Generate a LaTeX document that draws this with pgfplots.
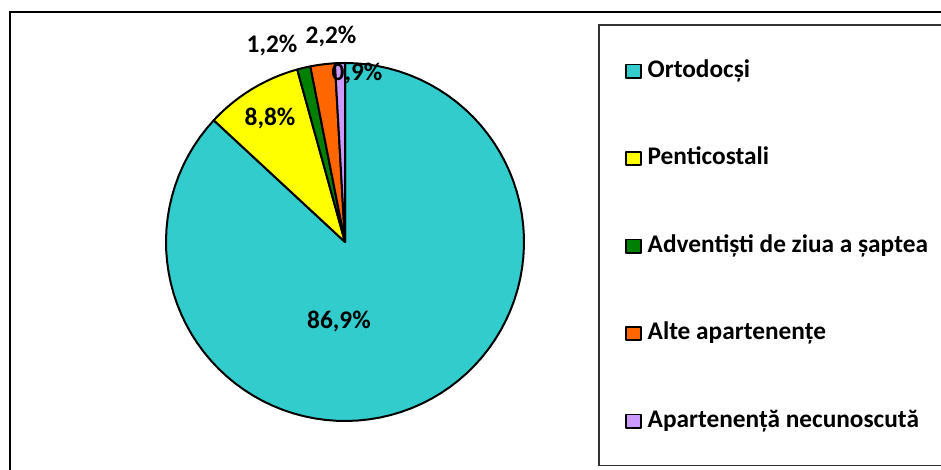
\documentclass[border=0pt]{standalone}
\usepackage{fontspec}
\setmainfont{Carlito}
\usepackage{pgfplots}
\pgfplotsset{compat=1.18}
\definecolor{cOrt}{RGB}{51,204,204}
\definecolor{cPen}{RGB}{255,255,0}
\definecolor{cAdv}{RGB}{0,128,0}
\definecolor{cAlt}{RGB}{255,102,0}
\definecolor{cNec}{RGB}{204,153,255}
% pie centre and radius in pixel units of the axis
\newcommand{\cx}{345}
\newcommand{\cy}{228}
\newcommand{\rr}{179}
% #1 = cumulative share before, #2 = share (%), #3 = colour
\newcommand{\slice}[3]{%
  \pgfmathsetmacro\sa{90-3.6*(#1+#2)}%
  \pgfmathsetmacro\sb{90-3.6*#1}%
  \edef\doslice{\noexpand\addplot[fill=#3, draw=black, line width=1.5pt, line join=round,
    domain=\sa:\sb, samples=90] ({\cx+\rr*cos(x)},{\cy+\rr*sin(x)}) -- (axis cs:\cx,\cy) -- cycle;}%
  \doslice}
\tikzset{lab/.style={font=\fontsize{19}{23}\selectfont\bfseries, inner sep=0pt}}

\begin{document}
\begin{tikzpicture}
\begin{axis}[
  scale only axis, width=705.75pt, height=352.5pt,
  xmin=0, xmax=941, ymin=0, ymax=470,
  hide axis, clip=false,
  legend cell align=left,
  legend image code/.code={\draw[#1, line width=1.3pt] (0pt,-5pt) rectangle (11pt,5pt);},
  legend style={
    draw=none, fill=none, inner sep=0pt,
    at={(axis cs:625,411.7)}, anchor=north west,
    font=\fontsize{19}{23}\selectfont\bfseries,
    row sep=46.6pt,
    nodes={inner sep=0pt, text height=14pt, text depth=5pt},
    /tikz/every odd column/.append style={column sep=4.5pt},
  },
]
% frames
\draw[black, line width=1.5pt] (axis cs:10,458) rectangle (axis cs:990,-20);
\draw[black!80, line width=1pt] (axis cs:599,445) rectangle (axis cs:980,4.5);

\slice{0}{86.9}{cOrt}\addlegendentry{Ortodocși}
\slice{86.9}{8.8}{cPen}\addlegendentry{Penticostali}
\slice{95.7}{1.2}{cAdv}\addlegendentry{Adventiști de ziua a șaptea}
\slice{96.9}{2.2}{cAlt}\addlegendentry{Alte apartenențe}
\slice{99.1}{0.9}{cNec}\addlegendentry{Apartenență necunoscută}

% data labels
\node[lab] at (axis cs:339,149) {86,9\%};
\node[lab] at (axis cs:270,352) {8,8\%};
\node[lab] at (axis cs:272,425) {1,2\%};
\node[lab] at (axis cs:331,434) {2,2\%};
\node[lab] at (axis cs:357,397) {0,9\%};
\end{axis}
\pgfresetboundingbox
\useasboundingbox (0,0) rectangle (705.75pt,352.5pt);
\end{tikzpicture}
\end{document}
